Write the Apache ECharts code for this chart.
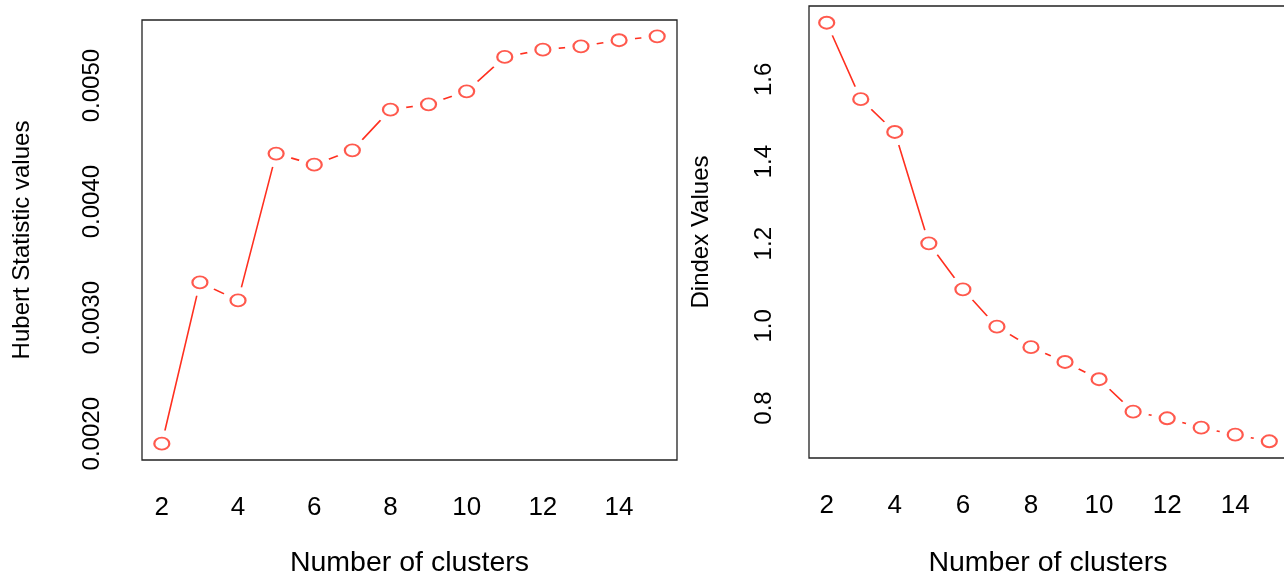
<!DOCTYPE html>
<html>
<head>
<meta charset="utf-8">
<script src="https://cdn.jsdelivr.net/npm/echarts@6/dist/echarts.min.js"></script>
<style>
  html, body { margin: 0; padding: 0; background: #fff; }
  #chart { width: 1284px; height: 579px; }
</style>
</head>
<body>
<div id="chart"></div>
<script>
// number of clusters tried
const clusters = [2, 3, 4, 5, 6, 7, 8, 9, 10, 11, 12, 13, 14, 15]
// Hubert statistic per cluster count
const hubertValues = [0.001914, 0.003304, 0.003149, 0.004414, 0.004319, 0.004442, 0.004793,
  0.004839, 0.004951, 0.005247, 0.005310, 0.005339, 0.005391, 0.005425]
// Dindex per cluster count
const dindexValues = [1.738, 1.552, 1.472, 1.201, 1.089, 0.998, 0.948,
  0.912, 0.870, 0.791, 0.775, 0.752, 0.735, 0.719]
// tick labels
const xTicks = [2, 4, 6, 8, 10, 12, 14]
const hubertTicks = [0.002, 0.003, 0.004, 0.005]
const dindexTicks = [0.8, 1.0, 1.2, 1.4, 1.6]

const RED = '#ff3020'
const FONT = "'Liberation Sans', Arial, Helvetica, sans-serif"

// base R style axis limits: data range + 4% each side
function padRange(arr) {
  const lo = Math.min.apply(null, arr)
  const hi = Math.max.apply(null, arr)
  const d = (hi - lo) * 0.04
  return [lo - d, hi + d]
}

function xAxisFor(gridIndex, gap) {
  const r = padRange(clusters)
  return {
    type: 'value',
    gridIndex: gridIndex,
    min: r[0],
    max: r[1],
    name: 'Number of clusters',
    nameLocation: 'middle',
    nameGap: gap,
    nameTextStyle: { fontFamily: FONT, fontSize: 28.5, color: '#000' },
    axisLine: { show: false },
    axisTick: { show: false },
    splitLine: { show: false },
    axisLabel: {
      customValues: xTicks,
      margin: 35,
      fontFamily: FONT,
      fontSize: 26,
      color: '#000'
    }
  }
}

function yAxisFor(gridIndex, vals, ticks, digits, title, gap, margin) {
  const r = padRange(vals)
  return {
    type: 'value',
    gridIndex: gridIndex,
    min: r[0],
    max: r[1],
    name: title,
    nameLocation: 'middle',
    nameGap: gap,
    nameRotate: 90,
    nameTextStyle: { fontFamily: FONT, fontSize: 24, color: '#000' },
    axisLine: { show: false },
    axisTick: { show: false },
    splitLine: { show: false },
    axisLabel: {
      customValues: ticks,
      rotate: 90,
      margin: margin,
      fontFamily: FONT,
      fontSize: 24,
      color: '#000',
      formatter: v => v.toFixed(digits)
    }
  }
}

function pairs(vals) {
  return clusters.map((c, i) => [c, vals[i]])
}

// R type="b": line broken around each point (white masks), then open circles on top
function seriesFor(idx, vals) {
  return [
    {
      type: 'line',
      xAxisIndex: idx,
      yAxisIndex: idx,
      data: pairs(vals),
      lineStyle: { color: RED, width: 1.6 },
      symbol: 'circle',
      symbolSize: [32, 27],
      showSymbol: true,
      showAllSymbol: true,
      itemStyle: { color: '#fff', borderWidth: 0 },
      silent: true,
      z: 2
    },
    {
      type: 'scatter',
      xAxisIndex: idx,
      yAxisIndex: idx,
      data: pairs(vals),
      symbol: 'emptyCircle',
      symbolSize: [15, 12],
      itemStyle: { color: RED, borderColor: RED, borderWidth: 1.8 },
      silent: true,
      z: 3
    }
  ]
}

const chart = echarts.init(document.getElementById('chart'), null, { renderer: 'canvas' })
chart.setOption({
  animation: false,
  backgroundColor: '#fff',
  grid: [
    { left: 142, top: 20, width: 535, height: 440, outerBoundsMode: 'none', show: true, borderColor: '#222', borderWidth: 1.3, backgroundColor: 'transparent' },
    { left: 809, top: 6, width: 478, height: 452, outerBoundsMode: 'none', show: true, borderColor: '#222', borderWidth: 1.3, backgroundColor: 'transparent' }
  ],
  xAxis: [xAxisFor(0, 89), xAxisFor(1, 91)],
  yAxis: [
    yAxisFor(0, hubertValues, hubertTicks, 4, 'Hubert Statistic values', 108, 38),
    yAxisFor(1, dindexValues, dindexTicks, 1, 'Dindex Values', 96, 33)
  ],
  series: seriesFor(0, hubertValues).concat(seriesFor(1, dindexValues))
})
</script>
</body>
</html>
